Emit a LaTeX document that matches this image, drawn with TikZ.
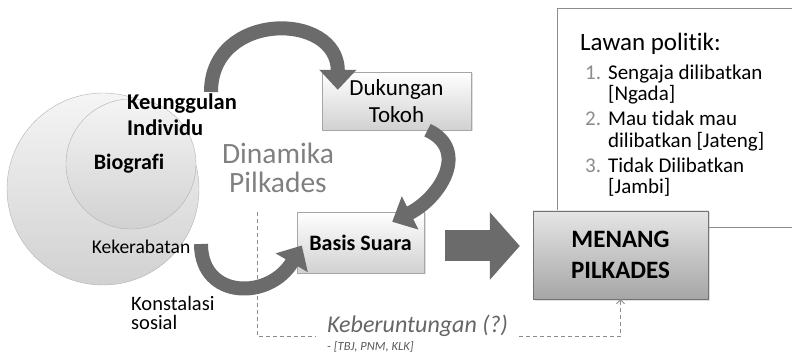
\documentclass[tikz,border=0pt]{standalone}
\usepackage{fontspec}
\setmainfont[Ligatures=NoCommon]{Carlito}
\usetikzlibrary{arrows.meta, shadows}

\begin{document}
\begin{tikzpicture}[x=1pt,y=-1pt,
    box node/.style={rectangle,draw=black!35,top color=white,bottom color=black!18,
        drop shadow={opacity=0.25,shadow xshift=1.5pt,shadow yshift=-1.5pt},
        align=center,inner sep=0pt},
    win node/.style={box node,draw=black!55,top color=black!10,bottom color=black!35},
    ring/.style={circle,draw=black!30,top color=black!4,bottom color=black!18,inner sep=0pt},
    curved arrow/.style={line width=14pt,draw=black!58,-{Triangle[length=20pt,width=36pt]}},
    block arrow/.style={line width=31pt,draw=black!58,-{Triangle[length=30pt,width=66pt]}},
    dash line/.style={draw=black!45,dash pattern=on 4pt off 3pt,line width=0.8pt},
    label text/.style={inner sep=0pt,align=left}]

    \useasboundingbox (0,0) rectangle (792,355);

    % lingkaran
    \node[ring,minimum size=192pt] (outer) at (103,189) {};
    \node[ring,minimum size=130pt] (inner) at (131,164) {};

    \node[label text,anchor=west,font=\bfseries\fontsize{22.5}{26}\selectfont] (keung) at (127,115) {Keunggulan\\Individu};
    \node[label text,font=\bfseries\fontsize{22}{26}\selectfont] (bio) at (129,164) {Biografi};
    \node[label text,font=\fontsize{19.5}{20}\selectfont] (kerabat) at (141,247) {Kekerabatan};
    \node[label text,anchor=west,font=\fontsize{20.5}{19}\selectfont] (konst) at (131,313) {Konstalasi\\sosial};
    \node[label text,align=center,text=black!50,font=\fontsize{29.5}{29}\selectfont] (dinamika) at (278,168) {Dinamika\\Pilkades};

    % kotak lawan politik
    \draw[draw=black!45,fill=white] (800,8) -| (557,227) -- (800,227);
    \node[label text,anchor=base west,font=\fontsize{25}{25}\selectfont] (lawan) at (580,51) {Lawan politik:};
    \node[label text,anchor=base west,font=\fontsize{21}{20.7}\selectfont] (daftar) at (585,79.3) {%
        \begin{tabular}[t]{@{}r@{\hspace{7pt}}l@{}}
        \textcolor{black!45}{1.} & Sengaja dilibatkan\\
                                 & [Ngada]\\[4.3pt]
        \textcolor{black!45}{2.} & Mau tidak mau\\
                                 & dilibatkan [Jateng]\\[4.3pt]
        \textcolor{black!45}{3.} & Tidak Dilibatkan\\
                                 & [Jambi]
        \end{tabular}};

    % kotak utama
    \node[box node,minimum width=149pt,minimum height=58pt,font=\fontsize{23}{27}\selectfont] (dukungan) at (396.5,101) {Dukungan\\Tokoh};
    \node[box node,minimum width=127pt,minimum height=61pt,font=\bfseries\fontsize{22}{27}\selectfont] (basis) at (360.5,242.5) {Basis Suara};
    \node[win node,minimum width=175pt,minimum height=88pt,font=\bfseries\fontsize{25}{31}\selectfont] (menang) at (620.5,255) {MENANG\\PILKADES};

    % keberuntungan
    \node[inner sep=0pt,anchor=base west,text=black!60,font=\itshape\fontsize{24}{26}\selectfont] (keber) at (327,332) {Keberuntungan (?)};
    \node[inner sep=0pt,anchor=base west,text=black!65,font=\itshape\fontsize{12.5}{14}\selectfont] (kasus) at (327,350) {- [TBJ, PNM, KLK]};

    \coordinate (gap top) at (257,212);
    \draw[dash line] (gap top) |- ([xshift=-12pt]keber.south west);
    \draw[dash line,-{Straight Barb[length=4pt,width=8pt]}] ([xshift=11pt]keber.south east) -| (menang.south);

    % panah lengkung
    \coordinate (top tail) at (211,92);
    \coordinate (low tail) at (201,244);
    \draw[curved arrow] (top tail) .. controls (211,11) and (338,11) .. ([xshift=16pt,yshift=-18pt]dukungan.north west);
    \draw[curved arrow] ([xshift=31pt]dukungan.south) .. controls (470,150) and (440,198) .. ([xshift=-32pt,yshift=-10pt]basis.north east);
    \draw[curved arrow] (low tail) .. controls (201,300) and (270,300) .. ([xshift=5pt,yshift=-3pt]basis.west);

    \coordinate (push) at (445,246);
    \draw[block arrow] (push) -- ([xshift=-13pt]menang.west |- push);
\end{tikzpicture}
\end{document}
